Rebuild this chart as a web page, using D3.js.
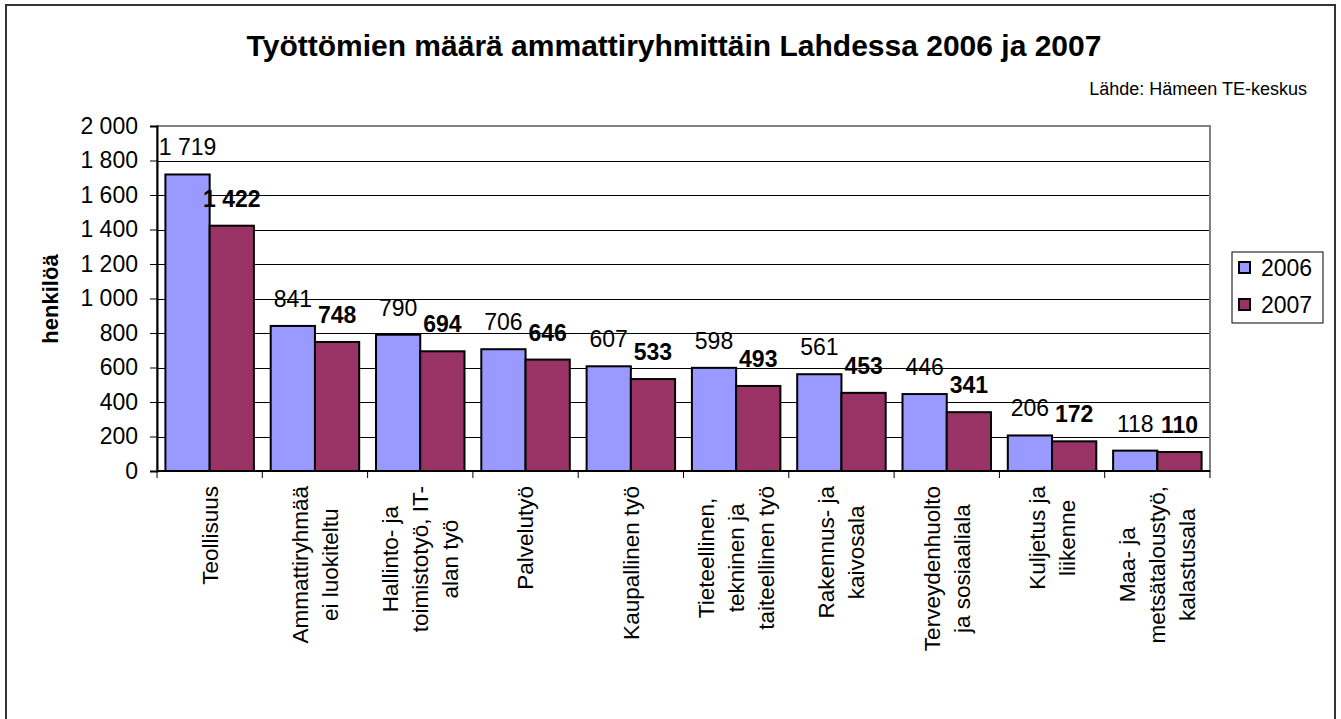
<!DOCTYPE html>
<html>
<head>
<meta charset="utf-8">
<script src="https://cdn.jsdelivr.net/npm/d3@7"></script>
<style>
  body { margin: 0; background: #fff; }
  svg { display: block; font-family: Arial, "Liberation Sans", sans-serif; }
</style>
</head>
<body>
<svg width="1341" height="719"></svg>
<script>
// data
var categories = [
  ["Teollisuus"],
  ["Ammattiryhmää", "ei luokiteltu"],
  ["Hallinto- ja", "toimistotyö, IT-", "alan työ"],
  ["Palvelutyö"],
  ["Kaupallinen työ"],
  ["Tieteellinen,", "tekninen ja", "taiteellinen työ"],
  ["Rakennus- ja", "kaivosala"],
  ["Terveydenhuolto", "ja sosiaaliala"],
  ["Kuljetus ja", "liikenne"],
  ["Maa- ja", "metsätaloustyö,", "kalastusala"]
];
var years = ["2006", "2007"];
var values2006 = [1719, 841, 790, 706, 607, 598, 561, 446, 206, 118];
var values2007 = [1422, 748, 694, 646, 533, 493, 453, 341, 172, 110];
var yTicks = [0, 200, 400, 600, 800, 1000, 1200, 1400, 1600, 1800, 2000];
var colors = ["#9999FF", "#993366"];

var fi = d3.formatLocale({decimal: ",", thousands: " ", grouping: [3], currency: ["", ""]});
var fmt = fi.format(",d");

var svg = d3.select("svg");

// outer frame (bottom edge runs off the picture)
svg.append("rect")
    .attr("x", 6).attr("y", 5)
    .attr("width", 1329).attr("height", 730)
    .attr("fill", "#fff")
    .attr("stroke", "#333")
    .attr("stroke-width", 2);

svg.append("text")
    .attr("x", 674).attr("y", 56)
    .attr("text-anchor", "middle")
    .attr("font-size", 30)
    .attr("font-weight", "bold")
    .text("Työttömien määrä ammattiryhmittäin Lahdessa 2006 ja 2007");

svg.append("text")
    .attr("x", 1307).attr("y", 95)
    .attr("text-anchor", "end")
    .attr("font-size", 18)
    .text("Lähde: Hämeen TE-keskus");

var plotL = 157, plotR = 1210, plotT = 126, plotB = 471;

var x0 = d3.scaleBand()
    .domain(d3.range(categories.length))
    .range([plotL, plotR]);

// Excel gap width 38%
var bw = x0.bandwidth() / 2.38;
var x1 = d3.scaleBand()
    .domain(years)
    .range([bw * 0.19, bw * 0.19 + bw * 2]);

var y = d3.scaleLinear()
    .domain([0, 2000])
    .range([plotB, plotT]);

// gridlines
svg.append("g")
    .selectAll("line")
    .data(yTicks.slice(1, -1))
    .enter().append("line")
    .attr("x1", plotL).attr("x2", plotR)
    .attr("y1", function(d) { return Math.round(y(d)) + 0.5; })
    .attr("y2", function(d) { return Math.round(y(d)) + 0.5; })
    .attr("stroke", "#000")
    .attr("stroke-width", 1);

// plot area border
svg.append("rect")
    .attr("x", plotL).attr("y", plotT)
    .attr("width", plotR - plotL).attr("height", plotB - plotT)
    .attr("fill", "none")
    .attr("stroke", "#808080")
    .attr("stroke-width", 2);

// bars
var series = [values2006, values2007];
var barLayer = svg.append("g");
var labelLayer = svg.append("g");

series.forEach(function(vals, si) {
  barLayer.append("g")
      .attr("fill", colors[si])
      .selectAll("rect")
      .data(vals)
      .enter().append("rect")
      .attr("x", function(d, i) { return x0(i) + x1(years[si]); })
      .attr("y", function(d) { return y(d); })
      .attr("width", x1.bandwidth())
      .attr("height", function(d) { return y(0) - y(d); })
      .attr("stroke", "#000")
      .attr("stroke-width", 2);

  // value labels
  labelLayer.append("g")
      .selectAll("text")
      .data(vals)
      .enter().append("text")
      .attr("x", function(d, i) { return x0(i) + x1(years[si]) + x1.bandwidth() / 2; })
      .attr("y", function(d) { return y(d) - 19; })
      .attr("text-anchor", "middle")
      .attr("font-size", 23)
      .attr("font-weight", si == 1 ? "bold" : "normal")
      .attr("fill", "#000")
      .text(function(d) { return fmt(d); });
});

// y axis
var yAxis = svg.append("g")
    .attr("transform", "translate(" + plotL + ",0)")
    .call(d3.axisLeft(y).tickValues(yTicks).tickSize(7).tickPadding(12).tickFormat(fmt));
yAxis.select(".domain").attr("stroke", "#000").attr("stroke-width", 2);
yAxis.selectAll(".tick line").attr("stroke", "#000");
yAxis.selectAll("text").attr("font-size", 23).attr("font-family", null).attr("fill", "#000");

svg.append("text")
    .attr("transform", "translate(58,299) rotate(-90)")
    .attr("text-anchor", "middle")
    .attr("font-size", 22)
    .attr("font-weight", "bold")
    .text("henkilöä");

// x axis line + ticks at category boundaries
svg.append("line")
    .attr("x1", plotL).attr("x2", plotR)
    .attr("y1", plotB).attr("y2", plotB)
    .attr("stroke", "#000").attr("stroke-width", 2);

svg.append("g")
    .selectAll("line")
    .data(d3.range(categories.length + 1))
    .enter().append("line")
    .attr("x1", function(d) { return plotL + d * x0.step(); })
    .attr("x2", function(d) { return plotL + d * x0.step(); })
    .attr("y1", plotB).attr("y2", plotB + 7)
    .attr("stroke", "#000");

// category labels, rotated, lines centred on each other
var lineGap = 30;
categories.forEach(function(lines, i) {
  var cx = x0(i) + x0.bandwidth() / 2;
  var g = svg.append("g");
  var txt = g.selectAll("text")
      .data(lines)
      .enter().append("text")
      .attr("font-size", 22.5)
      .attr("text-anchor", "middle")
      .attr("dy", "0.35em")
      .text(function(d) { return d; });
  var maxLen = 0;
  txt.each(function() { maxLen = Math.max(maxLen, this.getComputedTextLength()); });
  txt.attr("transform", function(d, j) {
    var lx = cx + (j - (lines.length - 1) / 2) * lineGap;
    return "translate(" + lx + "," + (486 + maxLen / 2) + ") rotate(-90)";
  });
});

// legend
var legend = svg.append("g");
legend.append("rect")
    .attr("x", 1232).attr("y", 252)
    .attr("width", 91).attr("height", 71)
    .attr("fill", "#fff")
    .attr("stroke", "#000");

var items = legend.selectAll("g")
    .data(years)
    .enter().append("g")
    .attr("transform", function(d, i) { return "translate(1239," + (262 + i * 37) + ")"; });
items.append("rect")
    .attr("width", 11).attr("height", 11)
    .attr("fill", function(d, i) { return colors[i]; })
    .attr("stroke", "#000")
    .attr("stroke-width", 2);
items.append("text")
    .attr("x", 22).attr("y", 14)
    .attr("font-size", 23)
    .text(function(d) { return d; });
</script>
</body>
</html>
